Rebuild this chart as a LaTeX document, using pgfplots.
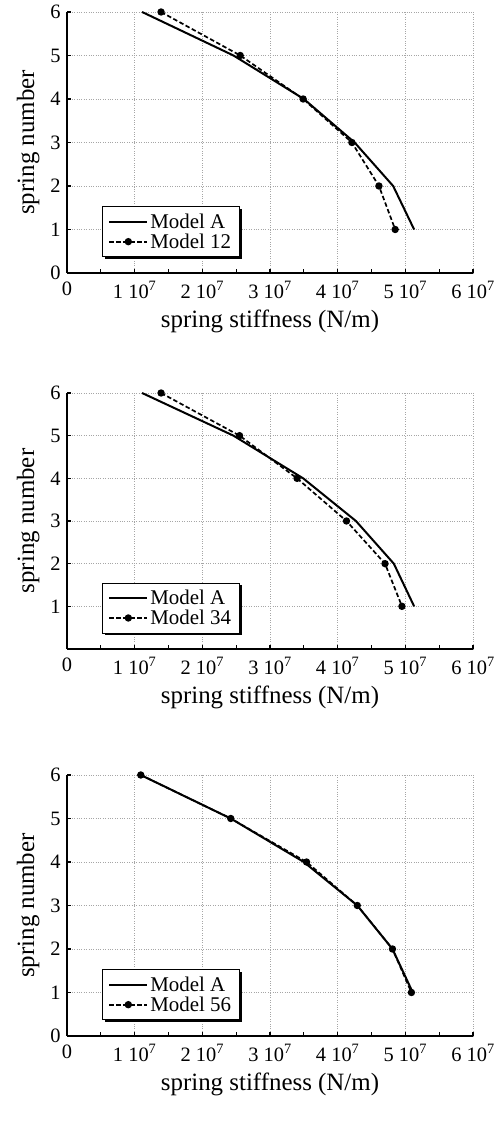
\documentclass[border=0pt]{standalone}
\usepackage{pgfplots}
\pgfplotsset{compat=1.18}
\usepackage{fontspec}
\setmainfont{Liberation Serif}
\usetikzlibrary{shadows}
\makeatletter
\tikzset{noshadow/.code={\let\tikz@preactions\pgfutil@empty}}
\makeatother

\pgfplotsset{
  panel/.style={
    scale only axis,
    width=406bp,
    axis lines*=left,
    axis line style={line width=1.7bp},
    tick align=inside,
    major tick length=4bp,
    minor tick length=4bp,
    tick style={line width=1.2bp, black},
    minor tick style={line width=1.2bp, black},
    xmin=0, xmax=6e7, ymin=0, ymax=6,
    scaled x ticks=false,
    xtick={0,1e7,2e7,3e7,4e7,5e7,6e7},
    xticklabels={0,{1 10\textsuperscript{7}},{2 10\textsuperscript{7}},{3 10\textsuperscript{7}},{4 10\textsuperscript{7}},{5 10\textsuperscript{7}},{6 10\textsuperscript{7}}},
    minor xtick={0.5e7,1.5e7,2.5e7,3.5e7,4.5e7,5.5e7},
    ytick={0,1,2,3,4,5,6},
    /pgf/number format/assume math mode=true,
    tick label style={font=\fontsize{20.5}{22}\selectfont},
    xticklabel style={yshift=-5bp},
    yticklabel style={xshift=-3bp},
    grid=major,
    major grid style={dotted, gray!70, line width=0.6bp},
    xlabel={spring stiffness (N/m)},
    ylabel={spring number},
    label style={font=\fontsize{25}{28}\selectfont},
    xlabel style={at={(axis description cs:0.5,0)}, anchor=center, yshift=-48bp},
    ylabel shift=4bp,
    legend style={
      at={(axis description cs:0.086,0.061)}, anchor=south west,
      draw=black, line width=0.8bp, fill=white,
      drop shadow={shadow xshift=2.5bp, shadow yshift=-2.5bp, fill=black, opacity=1},
      font=\fontsize{21}{24}\selectfont,
      row sep=0bp, inner xsep=6bp, inner ysep=5bp,
      cells={anchor=west},
    },
    legend image code/.code={
      \draw[noshadow, mark repeat=2, mark phase=2, #1] plot coordinates {(0bp,0bp) (19bp,0bp) (38bp,0bp)};
    },
  },
  modelA/.style={black, line width=2bp, mark=none},
  modelB/.style={black, line width=1.7bp, dash pattern=on 4.5bp off 2.5bp, mark=*, mark size=2.8bp, mark options={solid, fill=black}},
}

\begin{document}
\begin{tikzpicture}
\path[use as bounding box] (0,0) rectangle (496bp,1134bp);

% (a)
\begin{axis}[panel, height=261bp, at={(67bp,861bp)}, anchor=south west]
\addplot[modelA] coordinates {(1.11e7,6) (2.46e7,5) (3.50e7,4) (4.25e7,3) (4.82e7,2) (5.13e7,1)};
\addlegendentry{Model A}
\addplot[modelB] coordinates {(1.39e7,6) (2.56e7,5) (3.49e7,4) (4.21e7,3) (4.61e7,2) (4.85e7,1)};
\addlegendentry{Model 12}
\node[font=\fontsize{20}{22}\selectfont] at (axis description cs:0.5,0) [yshift=-78bp] {(a)};
\end{axis}

% (b)
\begin{axis}[panel, height=256bp, at={(67bp,485bp)}, anchor=south west, ytick={1,2,3,4,5,6}]
\addplot[modelA] coordinates {(1.11e7,6) (2.46e7,5) (3.49e7,4) (4.27e7,3) (4.83e7,2) (5.13e7,1)};
\addlegendentry{Model A}
\addplot[modelB] coordinates {(1.39e7,6) (2.55e7,5) (3.40e7,4) (4.13e7,3) (4.70e7,2) (4.95e7,1)};
\addlegendentry{Model 34}
\node[font=\fontsize{20}{22}\selectfont] at (axis description cs:0.5,0) [yshift=-79bp] {(b)};
\end{axis}

% (c)
\begin{axis}[panel, height=261bp, at={(67bp,98bp)}, anchor=south west]
\addplot[modelA] coordinates {(1.09e7,6) (2.42e7,5) (3.50e7,4) (4.29e7,3) (4.81e7,2) (5.11e7,1)};
\addlegendentry{Model A}
\addplot[modelB] coordinates {(1.09e7,6) (2.42e7,5) (3.54e7,4) (4.29e7,3) (4.81e7,2) (5.09e7,1)};
\addlegendentry{Model 56}
\node[font=\fontsize{20}{22}\selectfont] at (axis description cs:0.5,0) [yshift=-86bp] {(c)};
\end{axis}
\end{tikzpicture}
\end{document}
